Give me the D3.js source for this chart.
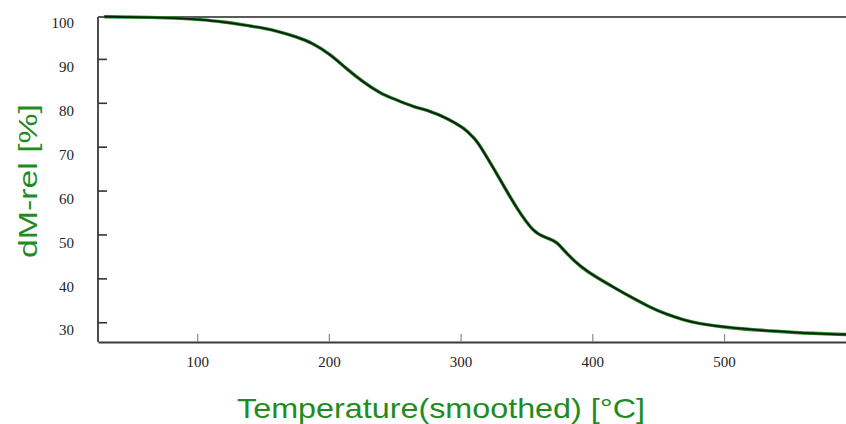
<!DOCTYPE html>
<html>
<head>
<meta charset="utf-8">
<script src="https://cdn.jsdelivr.net/npm/d3@7"></script>
<style>
  html, body { margin: 0; padding: 0; background: #fff; }
  svg { display: block; }
</style>
</head>
<body>
<svg id="chart" width="846" height="424"></svg>
<script>
// Thermogravimetric curve: relative mass vs. smoothed temperature
const temperature = [30, 64, 87, 102, 120, 140, 150, 163, 175, 188, 201, 213, 226, 239, 251, 264, 277, 289, 302, 309, 315, 330, 342, 355, 365, 373, 380, 391, 403, 416, 429, 443, 456, 469, 482, 507, 532, 558, 593];
const massRel     = [99.6, 99.45, 99.25, 98.95, 98.4, 97.5, 97.0, 96.1, 95.0, 93.4, 90.9, 87.9, 84.8, 82.3, 80.7, 79.2, 78.0, 76.5, 74.2, 72.3, 70.0, 62.5, 56.4, 51.1, 49.3, 48.1, 45.9, 42.8, 40.3, 38.0, 35.8, 33.6, 31.9, 30.6, 29.7, 28.7, 28.1, 27.6, 27.2];

const xTicks = [100, 200, 300, 400, 500];
const yTicks = [100, 90, 80, 70, 60, 50, 40, 30];

const xTitle = "Temperature(smoothed)  [°C]";
const yTitle = "dM-rel  [%]";

const svg = d3.select("#chart");
const plotLeft = 98, plotRight = 846, plotTop = 15, plotBottom = 342;

const x = d3.scaleLinear().domain([24.7, 592.6]).range([plotLeft, plotRight]);
const y = d3.scaleLinear().domain([25.5, 100]).range([plotBottom, plotTop]);

const green = "#1f8c1f";
const axisColor = "#3a3a3a";

// top frame line
svg.append("line")
  .attr("x1", plotLeft).attr("x2", plotRight)
  .attr("y1", 17).attr("y2", 17)
  .attr("stroke", "#5a5a5a").attr("stroke-width", 1.8);

// x axis with ticks pointing into the plot
const xAxis = svg.append("g")
  .attr("transform", `translate(0,${plotBottom})`)
  .call(d3.axisBottom(x).tickValues(xTicks).tickSizeInner(-8).tickSizeOuter(0).tickPadding(14));
xAxis.select(".domain").attr("stroke", axisColor).attr("stroke-width", 1.8);
xAxis.selectAll(".tick line").attr("stroke", "#888").attr("stroke-width", 1.2);
xAxis.selectAll(".tick text")
  .attr("font-family", "'Liberation Serif', 'DejaVu Serif', serif")
  .attr("font-size", 15).attr("fill", "#222");

// y axis with ticks pointing into the plot
const yAxis = svg.append("g")
  .attr("transform", `translate(${plotLeft},0)`)
  .call(d3.axisLeft(y).tickValues(yTicks).tickSizeInner(-9).tickSizeOuter(0).tickPadding(24));
yAxis.select(".domain").attr("stroke", axisColor).attr("stroke-width", 1.8)
  .attr("d", `M0,17V${plotBottom}`);
yAxis.selectAll(".tick line").attr("stroke", "#333").attr("stroke-width", 1.6);
yAxis.selectAll(".tick text")
  .attr("font-family", "'Liberation Serif', 'DejaVu Serif', serif")
  .attr("font-size", 15).attr("fill", "#222")
  .attr("dy", "0.85em");
yAxis.selectAll(".tick").filter(d => d === 100).select("line").remove();

// mass curve: green halo under a dark core
const pts = temperature.map((t, i) => [t, massRel[i]]);
const line = d3.line()
  .x(d => x(d[0])).y(d => y(d[1]))
  .curve(d3.curveNatural);

svg.append("path").datum(pts)
  .attr("d", line).attr("fill", "none")
  .attr("stroke", "#2f8a2f").attr("stroke-width", 3.4)
  .attr("stroke-linejoin", "round").attr("stroke-linecap", "round");
svg.append("path").datum(pts)
  .attr("d", line).attr("fill", "none")
  .attr("stroke", "#0d1f0d").attr("stroke-width", 1.8)
  .attr("stroke-linejoin", "round").attr("stroke-linecap", "round");

// axis titles
svg.append("text")
  .attr("x", 441).attr("y", 418)
  .attr("text-anchor", "middle")
  .attr("font-family", "'Liberation Sans', Arial, sans-serif")
  .attr("font-size", 28)
  .attr("fill", green)
  .attr("textLength", 408).attr("lengthAdjust", "spacingAndGlyphs")
  .text(xTitle);

svg.append("text")
  .attr("transform", "translate(37,181) rotate(-90)")
  .attr("text-anchor", "middle")
  .attr("font-family", "'Liberation Sans', Arial, sans-serif")
  .attr("font-size", 26)
  .attr("fill", green)
  .attr("textLength", 154).attr("lengthAdjust", "spacingAndGlyphs")
  .text(yTitle);
</script>
</body>
</html>
